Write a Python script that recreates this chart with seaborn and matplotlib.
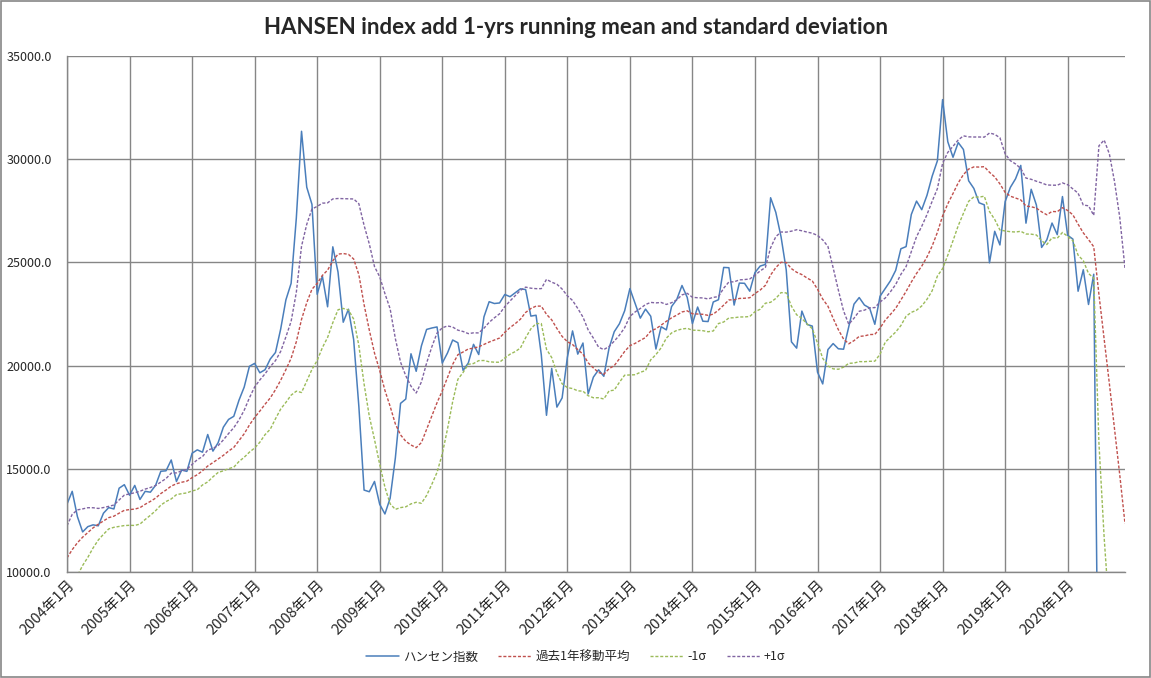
import pandas as pd
import matplotlib
matplotlib.use("Agg")
import matplotlib.pyplot as plt
import seaborn as sns
from matplotlib.patches import Rectangle

# 月次データ 2004年1月〜2020年12月 (2020年7月以降は空欄=0)
years = list(range(2004, 2021))
tick_labels = [f"{y}年1月" for y in years]

hansen = [
    13289, 13908, 12681, 11942, 12198, 12285, 12238, 12850, 13120, 13054, 14060, 14230,
    13721, 14195, 13516, 13908, 13867, 14201, 14880, 14903, 15428, 14386, 14937, 14876,
    15753, 15918, 15805, 16661, 15857, 16267, 17016, 17392, 17543, 18324, 18960, 19965,
    20107, 19652, 19801, 20319, 20635, 21773, 23185, 23984, 27143, 31352, 28643, 27813,
    23455, 24331, 22849, 25755, 24533, 22102, 22731, 21262, 18016, 13969, 13888, 14387,
    13278, 12812, 13576, 15521, 18171, 18379, 20573, 19724, 20955, 21753, 21822, 21873,
    20122, 20609, 21239, 21108, 19765, 20129, 21030, 20536, 22359, 23096, 23008, 23035,
    23447, 23338, 23528, 23720, 23684, 22398, 22440, 20535, 17592, 19864, 17989, 18434,
    20390, 21680, 20556, 21094, 18630, 19441, 19796, 19483, 20840, 21642, 22030, 22657,
    23730, 23020, 22300, 22737, 22392, 20803, 21883, 21731, 22860, 23206, 23881, 23306,
    22035, 22837, 22151, 22134, 23082, 23191, 24757, 24742, 22933, 23998, 23987, 23605,
    24507, 24823, 24901, 28133, 27424, 26250, 24636, 21150, 20846, 22640, 21996, 21914,
    19683, 19112, 20777, 21067, 20815, 20794, 21891, 22977, 23297, 22935, 22790, 22001,
    23361, 23741, 24112, 24615, 25661, 25765, 27323, 27970, 27554, 28246, 29177, 29919,
    32887, 30845, 30093, 30808, 30469, 28955, 28583, 27889, 27789, 24980, 26507, 25846,
    27942, 28633, 29051, 29699, 26901, 28543, 27778, 25725, 26092, 26907, 26346, 28190,
    26313, 26130, 23603, 24644, 22961, 24427, 0, 0, 0, 0, 0, 0,
]

running_mean = [
    10682, 11081, 11418, 11687, 11913, 12138, 12314, 12475, 12633, 12705, 12850, 12988,
    13024, 13048, 13117, 13281, 13420, 13580, 13800, 13971, 14164, 14275, 14348, 14402,
    14571, 14714, 14905, 15135, 15300, 15473, 15651, 15858, 16034, 16362, 16698, 17122,
    17485, 17796, 18129, 18434, 18832, 19291, 19805, 20354, 21154, 22240, 23047, 23701,
    23980, 24370, 24624, 25077, 25401, 25429, 25391, 25164, 24404, 22955, 21725, 20607,
    19758, 18799, 18026, 17173, 16643, 16333, 16153, 16025, 16269, 16918, 17579, 18203,
    18773, 19423, 20062, 20527, 20660, 20806, 20844, 20912, 21029, 21141, 21240, 21336,
    21613, 21841, 22032, 22249, 22576, 22765, 22882, 22882, 22485, 22216, 21798, 21414,
    21159, 21021, 20774, 20555, 20134, 19887, 19667, 19579, 19850, 19998, 20335, 20687,
    20965, 21077, 21222, 21359, 21672, 21786, 21960, 22147, 22315, 22446, 22600, 22654,
    22513, 22498, 22485, 22435, 22492, 22691, 22931, 23182, 23188, 23254, 23263, 23288,
    23494, 23659, 23888, 24388, 24750, 25005, 24995, 24696, 24522, 24409, 24243, 24102,
    23700, 23224, 22880, 22291, 21741, 21286, 21057, 21209, 21414, 21438, 21504, 21512,
    21818, 22204, 22482, 22777, 23181, 23596, 24048, 24464, 24819, 25262, 25794, 26454,
    27248, 27840, 28338, 28854, 29255, 29521, 29626, 29619, 29638, 29366, 29144, 28804,
    28392, 28208, 28121, 28029, 27731, 27697, 27630, 27450, 27308, 27469, 27455, 27651,
    27515, 27306, 26852, 26431, 26103, 25760, 23445, 21301, 19127, 16885, 14689, 12340,
]

minus_sigma = [
    9125, 9369, 9826, 10317, 10711, 11163, 11549, 11828, 12086, 12165, 12209, 12250,
    12262, 12255, 12322, 12545, 12747, 12971, 13240, 13414, 13540, 13747, 13795, 13832,
    13930, 13986, 14218, 14364, 14610, 14823, 14902, 15007, 15078, 15354, 15559, 15806,
    16007, 16287, 16656, 16918, 17422, 17894, 18218, 18568, 18760, 18697, 19250, 19816,
    20246, 20871, 21363, 22079, 22706, 22769, 22697, 22255, 20966, 19112, 17552, 16417,
    15215, 14109, 13303, 13035, 13120, 13158, 13301, 13378, 13329, 13711, 14249, 14829,
    15716, 16924, 18256, 19337, 19668, 20062, 20101, 20241, 20247, 20186, 20166, 20162,
    20368, 20552, 20678, 20852, 21350, 21780, 22036, 22036, 20792, 20390, 19654, 19119,
    18936, 18887, 18778, 18760, 18541, 18442, 18443, 18383, 18773, 18812, 19194, 19536,
    19546, 19557, 19676, 19759, 20282, 20534, 20861, 21331, 21582, 21706, 21774, 21805,
    21716, 21709, 21691, 21640, 21678, 22038, 22112, 22310, 22318, 22355, 22358, 22378,
    22611, 22730, 23022, 23067, 23254, 23536, 23523, 22879, 22461, 22286, 22018, 21789,
    21092, 20357, 19987, 19842, 19823, 19925, 20111, 20123, 20194, 20190, 20208, 20214,
    20554, 21133, 21385, 21625, 21941, 22393, 22579, 22683, 22889, 23209, 23626, 24337,
    24698, 25348, 26052, 26777, 27379, 27959, 28177, 28162, 28207, 27463, 27083, 26570,
    26523, 26487, 26472, 26507, 26376, 26368, 26328, 26050, 25864, 26196, 26171, 26451,
    26265, 26051, 25350, 25085, 24463, 24241, 16240, 11674, 7998, 4874, 2209, -30,
]

plus_sigma = [
    12239, 12793, 13010, 13057, 13115, 13113, 13079, 13122, 13180, 13245, 13491, 13726,
    13786, 13841, 13912, 14017, 14093, 14189, 14360, 14528, 14788, 14803, 14901, 14972,
    15212, 15442, 15592, 15906, 15990, 16123, 16400, 16709, 16990, 17370, 17837, 18438,
    18963, 19305, 19602, 19950, 20242, 20688, 21392, 22140, 23548, 25783, 26844, 27586,
    27714, 27869, 27885, 28075, 28096, 28089, 28085, 28073, 27842, 26798, 25898, 24797,
    24301, 23489, 22749, 21311, 20166, 19508, 19005, 18672, 19209, 20125, 20909, 21577,
    21830, 21922, 21868, 21717, 21652, 21550, 21587, 21583, 21811, 22096, 22314, 22510,
    22858, 23130, 23386, 23646, 23802, 23750, 23728, 23728, 24178, 24042, 23942, 23709,
    23382, 23155, 22770, 22350, 21727, 21332, 20891, 20775, 20927, 21184, 21476, 21838,
    22384, 22597, 22768, 22959, 23062, 23038, 23059, 22963, 23048, 23186, 23426, 23503,
    23310, 23287, 23279, 23230, 23306, 23344, 23750, 24054, 24058, 24153, 24168, 24198,
    24377, 24588, 24754, 25709, 26246, 26474, 26467, 26513, 26583, 26532, 26468, 26415,
    26308, 26091, 25773, 24740, 23659, 22647, 22003, 22295, 22634, 22686, 22800, 22810,
    23082, 23275, 23579, 23929, 24421, 24799, 25517, 26245, 26749, 27315, 27962, 28571,
    29798, 30332, 30624, 30931, 31131, 31083, 31075, 31076, 31069, 31269, 31205, 31038,
    30261, 29929, 29770, 29551, 29086, 29026, 28932, 28850, 28752, 28742, 28739, 28851,
    28765, 28561, 28354, 27777, 27743, 27279, 30650, 30928, 30256, 28896, 27169, 24710,
]

sns.set_style("white")
plt.rcParams['font.family'] = ['Noto Sans CJK JP', 'DejaVu Sans']

df = pd.DataFrame({
    "month": range(len(hansen)),
    "hansen": hansen,
    "mean": running_mean,
    "minus": minus_sigma,
    "plus": plus_sigma,
})

W, H = 1151, 678
fig = plt.figure(figsize=(W / 100, H / 100), dpi=100)
ax = fig.add_axes([67 / W, 1 - 572 / H, (1125 - 67) / W, (572 - 56) / H])

grid_c = "#868686"
dot = (2.2, 1.3)
sns.lineplot(data=df, x="month", y="hansen", ax=ax, color="#4A7EBB", linewidth=1.1, label="ハンセン指数")
sns.lineplot(data=df, x="month", y="mean", ax=ax, color="#C0504D", linewidth=1.0, label="過去1年移動平均").lines[-1].set_dashes(dot)
sns.lineplot(data=df, x="month", y="minus", ax=ax, color="#9BBB59", linewidth=1.0, label="-1σ").lines[-1].set_dashes(dot)
sns.lineplot(data=df, x="month", y="plus", ax=ax, color="#8064A2", linewidth=1.0, label="+1σ").lines[-1].set_dashes(dot)

ax.set_xlim(0, len(hansen) - 1)
ax.set_ylim(10000, 35000)
ax.set_yticks(range(10000, 35001, 5000))
ax.set_yticklabels([f"{v:.1f}" for v in range(10000, 35001, 5000)], fontsize=9)
ax.set_xticks(range(0, len(hansen), 12))
ax.set_xticklabels(tick_labels, rotation=45, ha="right", va="top", rotation_mode="anchor", fontsize=10.5)
ax.tick_params(axis="both", length=0)
ax.tick_params(axis="y", pad=11)
ax.tick_params(axis="x", pad=4)
ax.set_xlabel("")
ax.set_ylabel("")

ax.grid(True, color=grid_c, linewidth=1.0)
for side in ["top", "right"]:
    ax.spines[side].set_visible(False)
for side in ["left", "bottom"]:
    ax.spines[side].set_color(grid_c)
    ax.spines[side].set_linewidth(1.0)

handles, labels = ax.get_legend_handles_labels()
ax.get_legend().remove()
fig.legend(handles, labels, loc="center", bbox_to_anchor=(0.5, 21 / H), ncol=4, frameon=False,
           fontsize=9, handlelength=2.7, handletextpad=0.3, columnspacing=1.6)

fig.text(0.5, 1 - 27 / H, "HANSEN index add 1-yrs running mean and standard deviation",
         ha="center", va="center", fontsize=16, fontweight="bold", family=["Lato", "DejaVu Sans"])

fig.patches.append(Rectangle((0.0008, 0.0012), 0.9984, 0.9976, transform=fig.transFigure,
                             fill=False, edgecolor=grid_c, linewidth=1.2))

fig.savefig("out.png", dpi=100)
